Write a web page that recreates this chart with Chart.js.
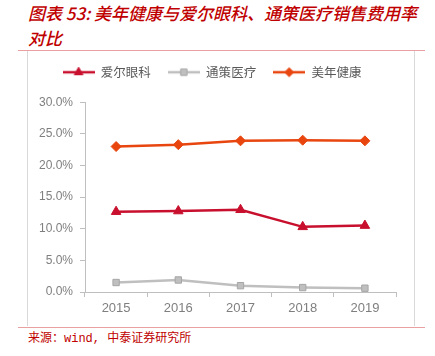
<!DOCTYPE html>
<html><head><meta charset="utf-8">
<script src="https://cdn.jsdelivr.net/npm/chart.js@4.4.0/dist/chart.umd.min.js"></script>
<style>
html,body{margin:0;padding:0;background:#fff;}
body{width:435px;height:356px;position:relative;overflow:hidden;}
#title{position:absolute;left:28px;top:0;font:italic 500 17px/25px "Noto Sans CJK SC",sans-serif;color:#C00000;white-space:nowrap;}
.rule{position:absolute;left:18px;width:407px;height:1px;background:#E8A0A0;}
#box{position:absolute;left:27px;top:51px;width:386px;height:275px;border-left:1px solid #D9D9D9;border-right:1px solid #D9D9D9;}
#chart{position:absolute;left:28px;top:51px;}
#src{position:absolute;left:28px;top:331px;font:12px/16px "Liberation Mono","Noto Sans CJK SC",monospace;color:#C00000;white-space:nowrap;}
</style></head>
<body>
<div id="title">图表 53: 美年健康与爱尔眼科、通策医疗销售费用率<br>对比</div>
<div class="rule" style="top:50px"></div>
<div id="box"></div>
<canvas id="chart" width="386" height="275"></canvas>
<div class="rule" style="top:327px"></div>
<div id="src">来源：wind, 中泰证券研究所</div>
<script>
const years = ['2015', '2016', '2017', '2018', '2019'];
const seriesNames = ['爱尔眼科', '通策医疗', '美年健康'];
const aier = [12.7, 12.8, 13.0, 10.3, 10.5];
const tongce = [1.5, 1.9, 1.0, 0.7, 0.6];
const meinian = [23.0, 23.3, 23.9, 24.0, 23.9];
const yTicks = [0, 5, 10, 15, 20, 25, 30];

const colors = ['#C8102E', '#BFBFBF', '#E8450F'];
const markers = ['triangle', 'rect', 'rectRot'];

function makeIcon(color, style, border) {
  const c = document.createElement('canvas');
  c.width = 32; c.height = 12;
  const x = c.getContext('2d');
  x.strokeStyle = color; x.lineWidth = 2.5;
  x.beginPath(); x.moveTo(0, 6); x.lineTo(32, 6); x.stroke();
  x.fillStyle = color; x.strokeStyle = border;
  x.lineWidth = 1;
  Chart.helpers.drawPoint(x, {pointStyle: style, radius: style === 'triangle' ? 5 : 4.5, rotation: 0, borderWidth: 1}, 16, 6);
  return c;
}
const icons = [
  makeIcon(colors[0], markers[0], colors[0]),
  makeIcon(colors[1], markers[1], '#A6A6A6'),
  makeIcon(colors[2], markers[2], colors[2])
];

const legendGap = {
  id: 'legendGap',
  beforeLayout(chart) {
    const lg = chart.legend;
    if (lg && !lg._gapPatched) {
      const f = lg.fit;
      lg.fit = function () { f.call(this); this.height += 13.75; };
      lg._gapPatched = true;
    }
  }
};

new Chart(document.getElementById('chart'), {
  type: 'line',
  data: {
    labels: years,
    datasets: [
      {label: seriesNames[0], data: aier, borderColor: colors[0], backgroundColor: colors[0],
       pointStyle: markers[0], pointRadius: 5.5, pointBorderWidth: 1, borderWidth: 2.5},
      {label: seriesNames[1], data: tongce, borderColor: colors[1], backgroundColor: colors[1],
       pointBorderColor: '#A6A6A6', pointStyle: markers[1], pointRadius: 4.5, pointBorderWidth: 1, borderWidth: 2.5},
      {label: seriesNames[2], data: meinian, borderColor: colors[2], backgroundColor: colors[2],
       pointStyle: markers[2], pointRadius: 5, pointBorderWidth: 1, borderWidth: 2.5}
    ]
  },
  options: {
    responsive: false,
    animation: false,
    layout: {padding: {top: -2, left: 0, right: 18, bottom: 0}},
    plugins: {
      tooltip: {enabled: false},
      legend: {
        position: 'top',
        labels: {
          usePointStyle: true,
          pointStyleWidth: 32,
          padding: 17,
          color: '#595959',
          font: {family: '"Noto Sans CJK SC", sans-serif', size: 12.5},
          generateLabels(chart) {
            const items = Chart.defaults.plugins.legend.labels.generateLabels(chart);
            items.forEach((it, i) => { it.pointStyle = icons[i]; });
            return items;
          }
        }
      }
    },
    scales: {
      x: {
        offset: true,
        grid: {display: true, offset: true, drawOnChartArea: false, drawTicks: true, tickLength: 5, color: '#BFBFBF'},
        border: {color: '#BFBFBF', width: 1},
        ticks: {color: '#7F7F7F', padding: 4, font: {family: '"Liberation Sans", Arial, sans-serif', size: 13}},
        afterFit(s) { s.height = 34; }
      },
      y: {
        min: 0, max: 30,
        afterBuildTicks(s) { s.ticks = yTicks.map(v => ({value: v})); },
        grid: {display: true, drawOnChartArea: false, drawTicks: true, tickLength: 5, color: '#BFBFBF'},
        border: {color: '#BFBFBF', width: 1},
        ticks: {color: '#7F7F7F', padding: 7, font: {family: '"Liberation Sans", Arial, sans-serif', size: 12},
                callback: v => v.toFixed(1) + '%'},
        afterFit(s) { s.width = 57; }
      }
    }
  },
  plugins: [legendGap]
});
</script>
</body></html>
